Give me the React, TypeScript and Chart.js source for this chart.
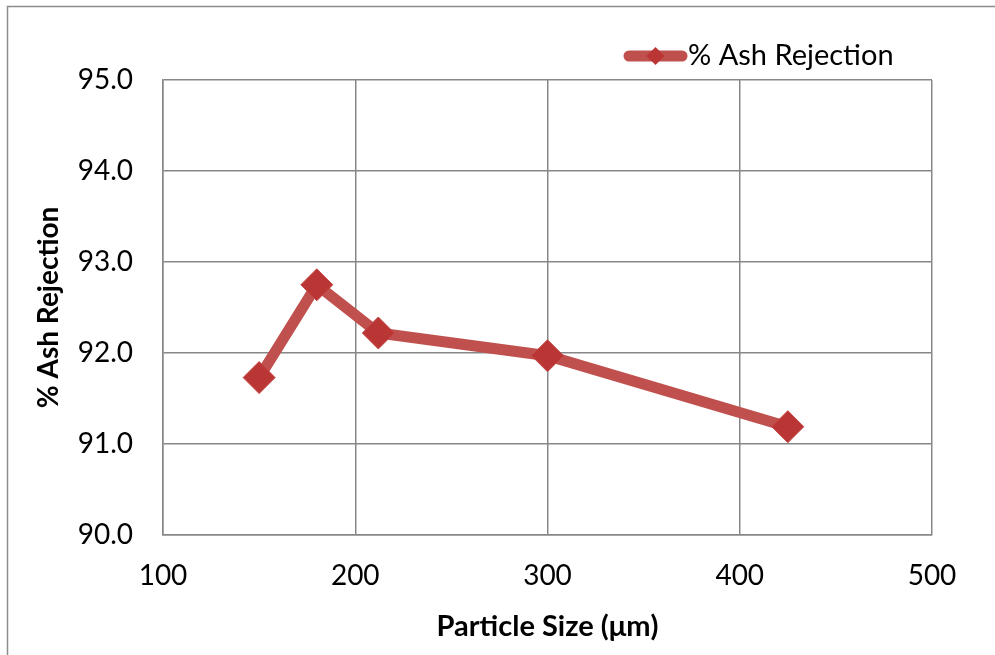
import React, { useEffect, useRef } from "react";
import { Chart, registerables } from "chart.js";

Chart.register(...registerables);

const particleSizes = [150, 180, 212, 300, 425];
const ashRejection = [91.73, 92.75, 92.22, 91.97, 91.19];
const seriesLabel = "% Ash Rejection";
const xTitle = "Particle Size (\u03bcm)";
const yTitle = "% Ash Rejection";

const FONT = "Lato, 'Open Sans', sans-serif";
const LINE_COLOR = "#C0504D";
const MARKER_COLOR = "#B93635";
const GRID = "#878787";

const frameAndLegend = {
  id: "frameAndLegend",
  afterDraw(chart: any) {
    const ctx = chart.ctx;
    ctx.save();
    // outer frame
    ctx.strokeStyle = "#8c8c8c";
    ctx.lineWidth = 1.5;
    ctx.strokeRect(7.5, 6.5, 1100, 1100);
    // legend
    const ly = 56;
    const lx0 = 629;
    const lx1 = 682;
    ctx.strokeStyle = LINE_COLOR;
    ctx.lineWidth = 11;
    ctx.lineCap = "round";
    ctx.beginPath();
    ctx.moveTo(lx0, ly);
    ctx.lineTo(lx1, ly);
    ctx.stroke();
    const cx = (lx0 + lx1) / 2;
    const r = 9;
    ctx.fillStyle = MARKER_COLOR;
    ctx.beginPath();
    ctx.moveTo(cx, ly - r);
    ctx.lineTo(cx + r, ly);
    ctx.lineTo(cx, ly + r);
    ctx.lineTo(cx - r, ly);
    ctx.closePath();
    ctx.fill();
    ctx.fillStyle = "#000";
    ctx.font = `29px ${FONT}`;
    ctx.textBaseline = "middle";
    ctx.textAlign = "left";
    ctx.fillText(seriesLabel, 688, ly);
    ctx.restore();
  },
};

export default function App() {
  const ref = useRef<HTMLCanvasElement | null>(null);

  useEffect(() => {
    if (!ref.current) return;
    const chart = new Chart(ref.current, {
      type: "scatter",
      data: {
        datasets: [
          {
            label: seriesLabel,
            data: particleSizes.map((x, i) => ({ x, y: ashRejection[i] })),
            showLine: true,
            borderColor: LINE_COLOR,
            borderWidth: 11,
            pointStyle: "rectRot",
            pointRadius: 16,
            pointBackgroundColor: MARKER_COLOR,
            pointBorderColor: "#C44543",
            pointBorderWidth: 1,
            tension: 0,
          } as any,
        ],
      },
      options: {
        responsive: false,
        animation: false,
        layout: { padding: { left: 0, top: 80, right: 63, bottom: 0 } },
        plugins: {
          legend: { display: false },
          tooltip: { enabled: false },
        },
        scales: {
          x: {
            type: "linear",
            min: 100,
            max: 500,
            ticks: {
              stepSize: 100,
              color: "#000",
              font: { family: FONT, size: 28 },
              padding: 24,
            },
            grid: { color: GRID, lineWidth: 1.5, drawTicks: false },
            border: { color: GRID, width: 1.5 },
            title: {
              display: true,
              text: xTitle,
              color: "#000",
              font: { family: FONT, size: 29, weight: "bold" },
              padding: { top: 0, bottom: 11 },
            },
            afterFit: (s: any) => {
              s.height = 120;
            },
          },
          y: {
            type: "linear",
            min: 90,
            max: 95,
            ticks: {
              stepSize: 1,
              color: "#000",
              font: { family: FONT, size: 28 },
              padding: 30,
              callback: (v: any) => Number(v).toFixed(1),
            },
            grid: { color: GRID, lineWidth: 1.5, drawTicks: false },
            border: { color: GRID, width: 1.5 },
            title: {
              display: true,
              text: yTitle,
              color: "#000",
              font: { family: FONT, size: 28, weight: "bold" },
              padding: { top: 32, bottom: 0 },
            },
            afterFit: (s: any) => {
              s.width = 163;
            },
          },
        },
      },
      plugins: [frameAndLegend],
    });
    return () => chart.destroy();
  }, []);

  return (
    <div style={{ position: "absolute", left: 0, top: 0, width: 995, height: 655, background: "#fff" }}>
      <canvas ref={ref} width={995} height={655} />
    </div>
  );
}
